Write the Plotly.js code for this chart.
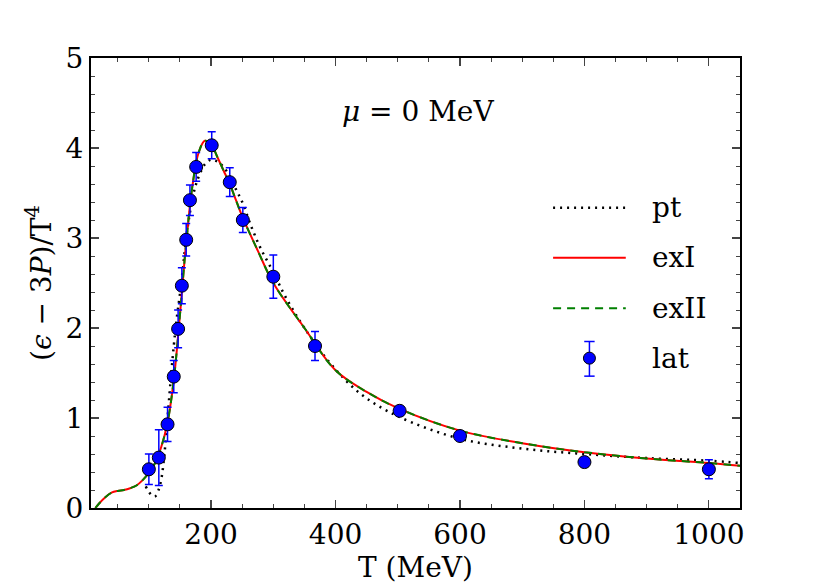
<!DOCTYPE html>
<html>
<head>
<meta charset="utf-8">
<script src="https://cdn.plot.ly/plotly-3.0.1.min.js"></script>
<style>html,body{margin:0;padding:0;background:#fff;}#chart{width:823px;height:584px;}</style>
</head>
<body>
<div id="chart"></div>
<script>
// Model curves
const T_ex = [14, 20, 30, 40, 50, 60, 70, 80, 90, 100, 110, 120, 130, 140, 150, 160, 170, 180, 190, 200, 210, 220, 230, 240, 250, 275, 300, 350, 400, 450, 500, 600, 700, 800, 900, 1000, 1050];
const exI = [0, 0.05, 0.12, 0.17, 0.19, 0.20, 0.22, 0.25, 0.31, 0.39, 0.50, 0.68, 0.95, 1.42, 2.15, 2.95, 3.58, 3.95, 4.08, 4.04, 3.90, 3.75, 3.60, 3.42, 3.24, 2.86, 2.50, 2.00, 1.53, 1.29, 1.11, 0.86, 0.72, 0.62, 0.55, 0.50, 0.47];
const exII = [0, 0.05, 0.12, 0.17, 0.19, 0.20, 0.22, 0.25, 0.31, 0.39, 0.50, 0.68, 0.95, 1.42, 2.15, 2.95, 3.58, 3.95, 4.08, 4.04, 3.90, 3.75, 3.60, 3.42, 3.24, 2.86, 2.50, 2.00, 1.53, 1.29, 1.11, 0.86, 0.72, 0.62, 0.55, 0.50, 0.47];
const T_pt = [95, 100, 105, 110, 115, 120, 125, 130, 135, 140, 145, 150, 155, 160, 165, 170, 175, 180, 190, 200, 210, 220, 230, 240, 250, 265, 280, 300, 320, 350, 390, 440, 500, 600, 700, 800, 900, 1000, 1050];
const pt = [0.24, 0.18, 0.14, 0.13, 0.19, 0.32, 0.60, 1.00, 1.42, 1.80, 2.12, 2.38, 2.68, 3.00, 3.24, 3.44, 3.58, 3.68, 3.82, 3.87, 3.85, 3.79, 3.68, 3.54, 3.40, 3.12, 2.88, 2.62, 2.34, 2.00, 1.62, 1.27, 1.02, 0.77, 0.66, 0.60, 0.555, 0.525, 0.50];
// Lattice data
const T_lat = [100, 116, 130, 140, 147, 153, 160, 166, 176, 201, 230, 251, 300, 367, 503, 600, 800, 1000];
const lat = [0.43, 0.56, 0.93, 1.46, 1.99, 2.47, 2.98, 3.42, 3.79, 4.03, 3.62, 3.20, 2.57, 1.80, 1.08, 0.80, 0.51, 0.43];
const latErr = [0.17, 0.31, 0.19, 0.18, 0.21, 0.20, 0.18, 0.17, 0.16, 0.15, 0.16, 0.14, 0.24, 0.16, 0.04, 0.04, 0.04, 0.105];
// Ticks
const xTickVals = [200, 400, 600, 800, 1000];
const yTickVals = [0, 1, 2, 3, 4, 5];
// Legend labels
const legendNames = ['pt', 'exI', 'exII', 'lat'];

const FONT = 'DejaVu Serif';
const C_PT = '#000000', C_I = '#ff0000', C_II = '#008000', C_LAT = '#0000ff';

const traces = [
  {x: T_pt, y: pt, mode: 'lines', name: legendNames[0],
   line: {color: C_PT, width: 2.5, dash: '2px,5px', shape: 'spline'}},
  {x: T_ex, y: exI, mode: 'lines', name: legendNames[1],
   line: {color: C_I, width: 2, shape: 'spline'}},
  {x: T_ex, y: exII, mode: 'lines', name: legendNames[2],
   line: {color: C_II, width: 2, dash: '8px,6px', shape: 'spline'}},
  {x: T_lat, y: lat, mode: 'markers', name: legendNames[3],
   marker: {color: C_LAT, size: 13, line: {color: '#000000', width: 1}},
   error_y: {type: 'data', array: latErr, visible: true, color: C_LAT, thickness: 1.5, width: 4}}
];

// Custom legend (paper coordinates) to mimic long line samples and error-bar glyph
const LX0 = 0.712, LX1 = 0.824, LXM = 0.768, LTX = 0.861;
const LY = [0.667, 0.556, 0.444, 0.333];
const shapes = [
  {type: 'line', xref: 'paper', yref: 'paper', x0: LX0, x1: LX1, y0: LY[0], y1: LY[0], line: {color: C_PT, width: 2.5, dash: '2px,5px'}},
  {type: 'line', xref: 'paper', yref: 'paper', x0: LX0, x1: LX1, y0: LY[1], y1: LY[1], line: {color: C_I, width: 2}},
  {type: 'line', xref: 'paper', yref: 'paper', x0: LX0, x1: LX1, y0: LY[2], y1: LY[2], line: {color: C_II, width: 2, dash: '8px,6px'}},
  {type: 'line', xref: 'paper', yref: 'paper', x0: LXM, x1: LXM, y0: LY[3] - 0.040, y1: LY[3] + 0.037, line: {color: C_LAT, width: 1.5}},
  {type: 'line', xref: 'paper', yref: 'paper', x0: LXM - 0.008, x1: LXM + 0.008, y0: LY[3] - 0.040, y1: LY[3] - 0.040, line: {color: C_LAT, width: 1.5}},
  {type: 'line', xref: 'paper', yref: 'paper', x0: LXM - 0.008, x1: LXM + 0.008, y0: LY[3] + 0.037, y1: LY[3] + 0.037, line: {color: C_LAT, width: 1.5}},
  {type: 'circle', xref: 'paper', yref: 'paper', xsizemode: 'pixel', ysizemode: 'pixel', xanchor: LXM, yanchor: LY[3],
   x0: -6, x1: 6, y0: -6, y1: 6, fillcolor: C_LAT, line: {color: '#000000', width: 1}}
];
const annotations = [
  {xref: 'paper', yref: 'paper', x: 0.504, y: 0.922, showarrow: false,
   text: '<i>μ</i> = 0 MeV', font: {family: FONT, size: 28}}
];
legendNames.forEach((n, i) => annotations.push({
  xref: 'paper', yref: 'paper', x: LTX, y: LY[i], xanchor: 'left', yanchor: 'middle', showarrow: false,
  text: n, font: {family: FONT, size: 28}
}));

const layout = {
  width: 823, height: 584,
  margin: {l: 91, r: 83, t: 58, b: 76},
  paper_bgcolor: '#ffffff', plot_bgcolor: '#ffffff',
  font: {family: FONT, color: '#000000', size: 28},
  showlegend: false,
  xaxis: {range: [7, 1050], tickvals: xTickVals, ticks: 'inside', ticklen: 8, tickwidth: 1.2,
          showline: true, linewidth: 2, linecolor: '#000', mirror: 'allticks', showgrid: false, zeroline: false,
          tickfont: {family: FONT, size: 28},
          minor: {dtick: 50, tick0: 0, ticks: 'inside', ticklen: 4, tickwidth: 1, showgrid: false},
          title: {text: 'T (MeV)', font: {family: FONT, size: 28}, standoff: 4}},
  yaxis: {range: [0, 5], tickvals: yTickVals, ticks: 'inside', ticklen: 8, tickwidth: 1.2,
          showline: true, linewidth: 2, linecolor: '#000', mirror: 'allticks', showgrid: false, zeroline: false,
          tickfont: {family: FONT, size: 28},
          minor: {dtick: 0.2, tick0: 0, ticks: 'inside', ticklen: 4, tickwidth: 1, showgrid: false},
          title: {text: '(<i>ϵ</i> − 3<i>P</i>)/T<sup>4</sup>', font: {family: FONT, size: 28}, standoff: 6}},
  shapes: shapes,
  annotations: annotations
};

Plotly.newPlot('chart', traces, layout, {displayModeBar: false, staticPlot: true});
</script>
</body>
</html>
